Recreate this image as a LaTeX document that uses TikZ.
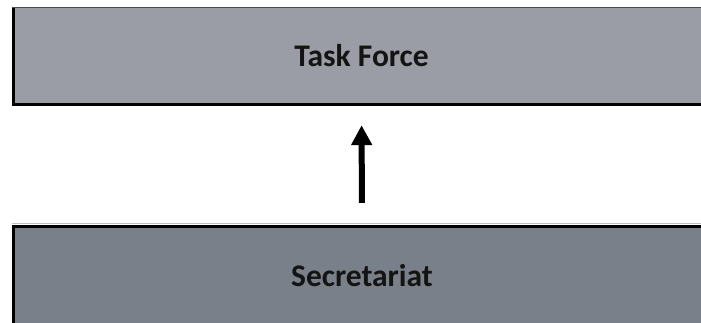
\documentclass[tikz,border=0pt]{standalone}
\usepackage{fontspec}
\setmainfont{Carlito}
\usetikzlibrary{arrows.meta}
\definecolor{topfill}{HTML}{9A9DA5}
\definecolor{botfill}{HTML}{7A808A}
\definecolor{thinedge}{HTML}{4A4A4A}
\tikzset{
  layer/.style={rectangle, inner sep=0pt, minimum width=699pt, font=\fontsize{31.5}{36}\selectfont\bfseries, text=black!92},
  heavyedge/.style={line width=3pt, black},
  lightedge/.style={line width=1.2pt, thinedge},
  uparrow/.style={line width=6pt, black, -{Triangle[length=20pt,width=20pt]}}
}
\begin{document}
\begin{tikzpicture}[x=1pt,y=1pt]
\clip (0,0) rectangle (701,322);
\fill[white] (0,0) rectangle (701,322);
\node[layer, fill=topfill, minimum height=96pt] (tf) at (361.5,266) {Task Force};
\node[layer, fill=botfill, minimum height=100pt] (sec) at (362,46) {Secretariat};
\draw[lightedge] (tf.north west) -- (tf.north east);
\draw[heavyedge] ([xshift=1.5pt]tf.north west) -- ([xshift=1.5pt]tf.south west);
\draw[heavyedge] (tf.south west) -- (tf.south east);
\draw[line width=1pt, black!25] ([yshift=2pt]sec.north west) -- ([yshift=2pt]sec.north east);
\draw[heavyedge] ([yshift=-0.5pt]sec.north west) -- ([yshift=-0.5pt]sec.north east);
\draw[heavyedge] ([xshift=1.5pt]sec.north west) -- ([xshift=1.5pt]sec.south west);
\draw[uparrow, shorten <=23pt, shorten >=21pt] (sec.north) -- (tf.south);
\end{tikzpicture}
\end{document}
